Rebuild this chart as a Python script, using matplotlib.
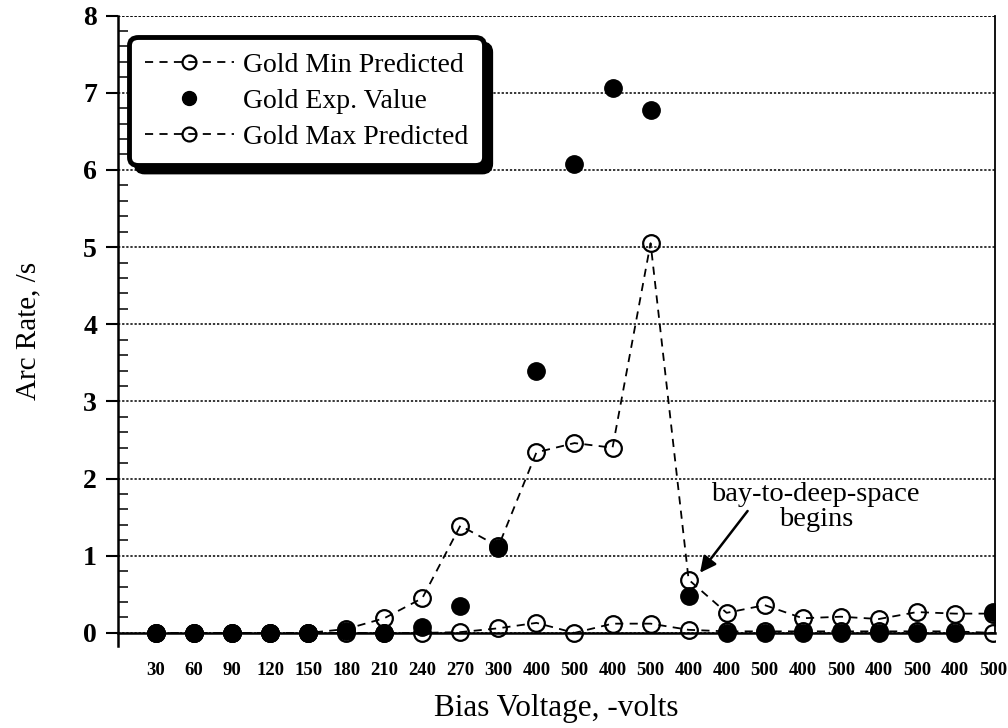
import matplotlib
matplotlib.use("Agg")
import matplotlib.pyplot as plt
from matplotlib.ticker import MultipleLocator, FixedLocator

plt.rcParams['font.family'] = ['Liberation Serif', 'DejaVu Serif']

# x categories (bias voltage, -volts)
labels = ["30", "60", "90", "120", "150", "180", "210", "240", "270", "300",
          "400", "500", "400", "500", "400", "400", "500", "400", "500", "400",
          "500", "400", "500"]
min_pred = [0.0, 0.0, 0.0, 0.0, 0.0, 0.0, 0.0, 0.0, 0.01, 0.06, 0.13, 0.0,
            0.12, 0.12, 0.04, 0.02, 0.02, 0.02, 0.02, 0.02, 0.02, 0.02, 0.0]
exp_val = [0.0, 0.0, 0.0, 0.0, 0.0, 0.03, 0.0, 0.08, 0.35, 1.1, 3.4, 6.08,
           7.06, 6.78, 0.48, 0.0, 0.0, 0.0, 0.0, 0.0, 0.0, 0.0, 0.27]
max_pred = [0.0, 0.0, 0.0, 0.0, 0.0, 0.05, 0.19, 0.45, 1.39, 1.12, 2.34, 2.46,
            2.4, 5.05, 0.69, 0.26, 0.36, 0.19, 0.21, 0.18, 0.27, 0.25, 0.25]

x = list(range(len(labels)))

fig = plt.figure(figsize=(10.08, 7.28), dpi=100)
ax = fig.add_axes([0.117, 0.1126, 0.870, 0.866])

dash = (0, (4.5, 3.5))
ax.plot(x, min_pred, linestyle=dash, color="black", lw=1.3, marker="o",
        markersize=12, markerfacecolor="none", markeredgewidth=1.6,
        label="Gold Min Predicted", zorder=3)
ax.plot(x, exp_val, linestyle="none", color="black", marker="o",
        markersize=12.5, label="Gold Exp. Value", zorder=4)
ax.plot(x, max_pred, linestyle=dash, color="black", lw=1.3, marker="o",
        markersize=12, markerfacecolor="none", markeredgewidth=1.6,
        label="Gold Max Predicted", zorder=5)

ax.set_xlim(-1, 22.05)
ax.set_ylim(-0.17, 8)

# spines
ax.spines['top'].set_visible(False)
ax.spines['bottom'].set_position(('data', 0))
ax.spines['bottom'].set_linewidth(1.8)
ax.spines['left'].set_linewidth(1.8)
ax.spines['right'].set_linewidth(1.3)
ax.spines['right'].set_bounds(0, 8)

# x ticks: labels at every category, grid ticks every 5
ax.set_xticks(x)
ax.set_xticklabels(labels, fontsize=13.5, fontweight="bold")
ax.tick_params(axis="x", which="major", length=0, pad=21)
ax.xaxis.set_minor_locator(FixedLocator([4, 9, 14, 19]))
ax.tick_params(axis="x", which="minor", direction="out", length=10, width=1.3)

# y ticks
ax.yaxis.set_major_locator(MultipleLocator(1))
ax.yaxis.set_minor_locator(MultipleLocator(0.2))
ax.tick_params(axis="y", which="major", direction="out", length=9, width=1.5,
               labelsize=20, pad=6)
ax.tick_params(axis="y", which="minor", direction="in", length=7, width=1.1)
for t in ax.get_yticklabels():
    t.set_fontweight("bold")

ax.grid(True, axis="y", which="major", linestyle=(0, (1.5, 1.2)), color="black", lw=1.1)
ax.grid(True, axis="x", which="minor", linestyle=(0, (1.5, 1.2)), color="black", lw=1.1)
ax.axhline(8, color="black", linestyle=(0, (1.5, 1.2)), lw=1.1)

ax.set_xlabel("Bias Voltage, -volts", fontsize=22.5, labelpad=11)
ax.set_ylabel("Arc Rate, /s", fontsize=21, labelpad=30)

ax.text(17.34, 1.63, "bay-to-deep-space\nbegins", fontsize=20.5, ha="center",
        va="center", linespacing=1.0)
ax.annotate("", xy=(14.3, 0.78), xytext=(15.55, 1.58),
            arrowprops=dict(arrowstyle="-|>", color="black", lw=1.8,
                            mutation_scale=24, shrinkA=0, shrinkB=0))

leg = ax.legend(loc="upper left", bbox_to_anchor=(0.013, 0.966), borderaxespad=0,
                fontsize=20, handlelength=3.2, handletextpad=0.35, frameon=True,
                fancybox=True, shadow={"color": "black", "alpha": 1.0, "ox": 5, "oy": -5},
                borderpad=0.55, labelspacing=0.38)
leg.get_frame().set_edgecolor("black")
leg.get_frame().set_linewidth(3.5)
leg.get_frame().set_boxstyle("round,pad=0,rounding_size=0.3")
leg.set_zorder(10)
for h in leg.legend_handles:
    h.set_markersize(10)

fig.savefig("out.png", dpi=100)
